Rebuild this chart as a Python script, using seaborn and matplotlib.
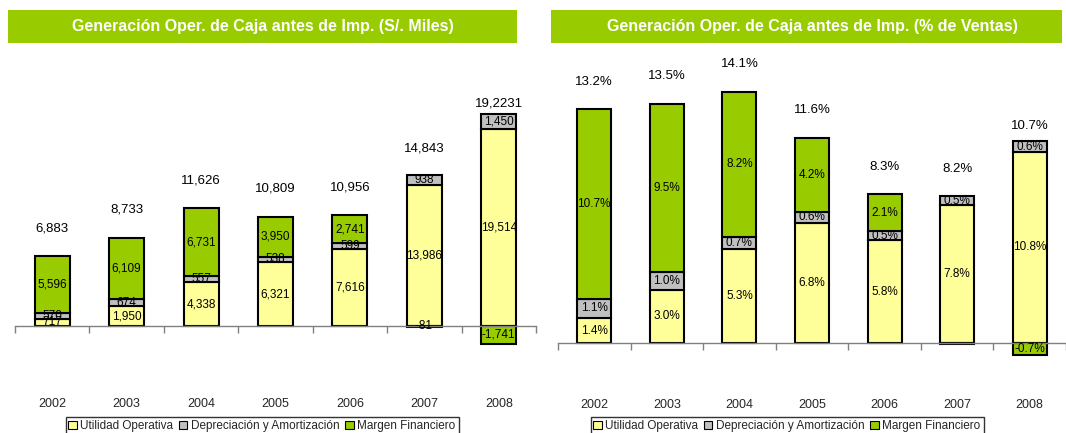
import matplotlib
matplotlib.use('Agg')
import matplotlib.pyplot as plt
from matplotlib import font_manager
from matplotlib.patches import Rectangle, Patch
import seaborn as sns
import pandas as pd
import numpy as np

# --- data ---
years = ['2002', '2003', '2004', '2005', '2006', '2007', '2008']

# S/. Miles
utilidad_miles = [717, 1950, 4338, 6321, 7616, 13986, 19514]
deprec_miles = [570, 674, 557, 538, 599, 938, 1450]
margen_miles = [5596, 6109, 6731, 3950, 2741, -81, -1741]
total_miles_labels = ['6,883', '8,733', '11,626', '10,809', '10,956', '14,843', '19,2231']

# % de Ventas
utilidad_pct = [1.4, 3.0, 5.3, 6.8, 5.8, 7.8, 10.8]
deprec_pct = [1.1, 1.0, 0.7, 0.6, 0.5, 0.5, 0.6]
margen_pct = [10.7, 9.5, 8.2, 4.2, 2.1, -0.04, -0.7]
total_pct_labels = ['13.2%', '13.5%', '14.1%', '11.6%', '8.3%', '8.2%', '10.7%']

series_names = ['Utilidad Operativa', 'Depreciación y Amortización', 'Margen Financiero']
colors = ['#FFFF99', '#C0C0C0', '#99CC00']
title_green = '#99CC00'

sns.set_theme(style='white')
names = {f.name for f in font_manager.fontManager.ttflist}
base_font = 'Liberation Sans' if 'Liberation Sans' in names else 'DejaVu Sans'
title_font = 'Liberation Sans Narrow' if 'Liberation Sans Narrow' in names else base_font
title_size = 13 if title_font == 'Liberation Sans Narrow' else 11.5
plt.rcParams['font.family'] = [base_font, 'DejaVu Sans']

W, H = 1066, 433
fig = plt.figure(figsize=(W / 100, H / 100), dpi=100)


def px_axes(x0, y_top, w, h):
    return fig.add_axes([x0 / W, 1 - (y_top + h) / H, w / W, h / H])


def draw_panel(ax, uo, da, mf, total_labels, fmt, ylim, xlim, pad):
    df = pd.DataFrame({'year': years, 'uo': uo, 'da': da, 'mf': mf})
    df['da_bottom'] = df['uo']
    df['mf_bottom'] = [u + d if m >= 0 else 0 for u, d, m in zip(uo, da, mf)]
    bar_kw = dict(width=0.47, edgecolor='black', linewidth=1.5, saturation=1,
                  errorbar=None, ax=ax)
    sns.barplot(data=df, x='year', y='uo', color=colors[0], **bar_kw)
    sns.barplot(data=df, x='year', y='da', bottom=df['da_bottom'], color=colors[1], **bar_kw)
    sns.barplot(data=df, x='year', y='mf', bottom=df['mf_bottom'], color=colors[2], **bar_kw)

    for i, row in df.iterrows():
        segs = [(row['uo'], 0), (row['da'], row['da_bottom']), (row['mf'], row['mf_bottom'])]
        for val, bot in segs:
            txt = fmt(val)
            if txt is None:
                continue
            ax.text(i, bot + val / 2, txt, ha='center', va='center', fontsize=8.5,
                    color='black')
        top = row['uo'] + row['da'] + row['mf']
        ax.annotate(total_labels[i], (i, top), xytext=(0, 20), textcoords='offset points',
                    ha='center', va='center', fontsize=9.5, color='black')

    ax.set_ylim(*ylim)
    ax.set_xlim(*xlim)
    ax.set_yticks([])
    ax.set_xlabel('')
    ax.set_ylabel('')
    for s in ['left', 'right', 'top']:
        ax.spines[s].set_visible(False)
    ax.spines['bottom'].set_position(('data', 0))
    ax.spines['bottom'].set_color('#808080')
    ax.spines['bottom'].set_linewidth(1)
    ax.set_xticks(np.arange(-0.5, 7, 1), minor=True)
    ax.tick_params(axis='x', which='minor', bottom=True, length=5, width=1,
                   color='#808080', direction='out')
    ax.tick_params(axis='x', which='major', length=0, pad=pad, labelsize=9)
    ax.set_facecolor('white')


def fmt_miles(v):
    return f'{v:,.0f}'


def fmt_pct(v):
    if abs(v) < 0.05:
        return None
    return f'{v:.1f}%'


ax1 = px_axes(15, 60, 521, 330)
draw_panel(ax1, utilidad_miles, deprec_miles, margen_miles, total_miles_labels,
           fmt_miles, (-6330, 26300), (-0.5, 6.5), 52)

ax2 = px_axes(558, 55, 508, 335)
draw_panel(ax2, utilidad_pct, deprec_pct, margen_pct, total_pct_labels,
           fmt_pct, (-2.655, 16.27), (-0.5, 6.32), 40)

# title bars
titles = [('Generación Oper. de Caja antes de Imp. (S/. Miles)', 8, 509, 263),
          ('Generación Oper. de Caja antes de Imp. (% de Ventas)', 551, 511, 812)]
for text, x0, w, xc in titles:
    fig.patches.append(Rectangle((x0 / W, 1 - 43 / H), w / W, 33 / H,
                                 transform=fig.transFigure, facecolor=title_green,
                                 edgecolor='none'))
    fig.text(xc / W, 1 - 27 / H, text, ha='center', va='center', color='white',
             fontsize=title_size, fontweight='bold', family=title_font)

# legends
handles = [Patch(facecolor=c, edgecolor='black', linewidth=0.8) for c in colors]
for xc in [262, 787]:
    fig.legend(handles, series_names, loc='lower center', bbox_to_anchor=(xc / W, -0.005),
               ncol=3, fontsize=8.5, frameon=True, fancybox=False, edgecolor='black',
               handlelength=0.7, handleheight=0.7, handletextpad=0.3, columnspacing=0.5,
               borderpad=0.25, borderaxespad=0)

fig.savefig('out.png', dpi=100, facecolor='white')
